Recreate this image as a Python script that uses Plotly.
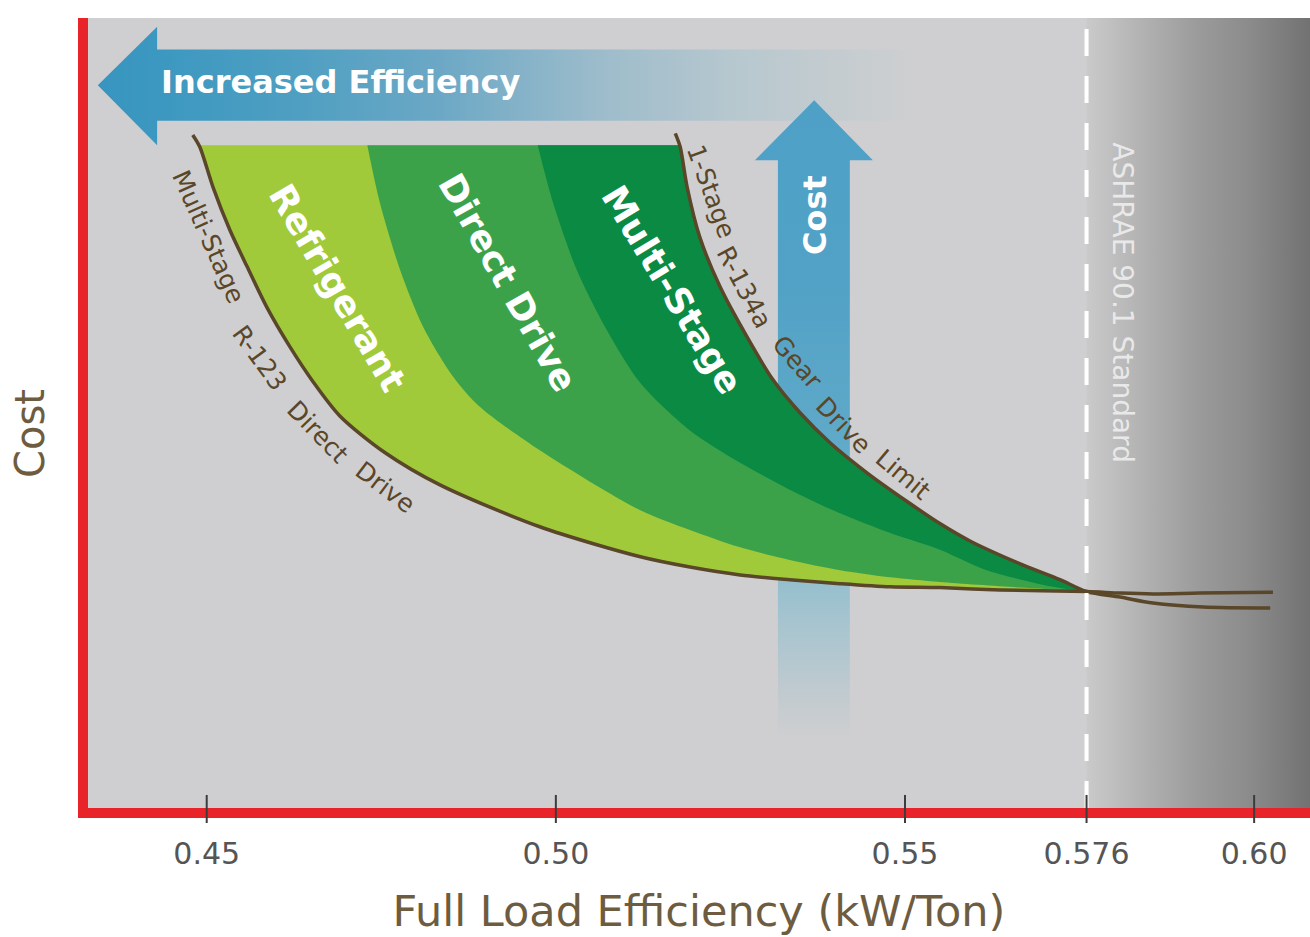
import numpy as np
import plotly.graph_objects as go

# ---- axis ticks (full-load efficiency, kW/Ton) ----
tick_vals = [0.45, 0.50, 0.55, 0.576, 0.60]
tick_text = ["0.45", "0.50", "0.55", "0.576", "0.60"]
ashrae_limit = 0.576

# ---- boundary curves: efficiency (kW/Ton) vs relative cost ----
# Multi-Stage R-123 Direct Drive (outer, most efficient)
r123_x = [0.4480, 0.4490, 0.4509, 0.4533, 0.4558, 0.4586, 0.4619, 0.4652, 0.4691,
          0.4755, 0.4834, 0.4977, 0.5121, 0.5192, 0.5264, 0.5335, 0.5407, 0.5479,
          0.5550, 0.5636, 0.576]
r123_y = [85.2, 83.7, 78.6, 73.2, 68.5, 63.4, 58.4, 54.0, 49.6,
          45.0, 40.9, 35.6, 31.8, 30.5, 29.5, 28.9, 28.4, 28.0,
          27.9, 27.6, 27.4]
r123_ext_x = [0.5808, 0.5855, 0.5922, 0.6027]
r123_ext_y = [27.2, 27.1, 27.2, 27.3]

# Refrigerant / Direct Drive boundary
refr_drive_x = [0.4730, 0.4748, 0.4777, 0.4810, 0.4853, 0.4891, 0.4977, 0.5121,
                0.5192, 0.5264, 0.5335, 0.5407, 0.5479, 0.5550, 0.5665, 0.576]
refr_drive_y = [83.9, 76.6, 68.1, 60.9, 54.6, 50.8, 45.3, 37.7,
                35.2, 33.0, 31.4, 30.1, 29.2, 28.6, 27.9, 27.4]

# Direct Drive / Multi-Stage boundary
drive_multi_x = [0.4974, 0.4996, 0.5030, 0.5073, 0.5121, 0.5192, 0.5264, 0.5335,
                 0.5407, 0.5479, 0.5550, 0.5617, 0.5712, 0.576]
drive_multi_y = [83.9, 76.6, 68.1, 60.5, 53.8, 47.8, 43.7, 40.3,
                 37.3, 34.8, 32.7, 30.1, 28.0, 27.4]

# 1-Stage R-134a Gear Drive Limit
gear_x = [0.5171, 0.5178, 0.5188, 0.5206, 0.5235, 0.5274, 0.5311, 0.5350,
          0.5393, 0.5446, 0.5503, 0.5550, 0.5593, 0.5665, 0.5722, 0.576]
gear_y = [85.4, 83.7, 78.6, 72.3, 66.0, 59.6, 54.2, 50.0,
          46.2, 42.4, 38.8, 36.0, 33.8, 30.9, 28.9, 27.4]
gear_ext_x = [0.5808, 0.5855, 0.5927, 0.6023]
gear_ext_y = [26.7, 25.95, 25.44, 25.32]

band_top = 83.9

# ---- layout constants ----
X_RANGE = [0.433, 0.608]
Y_RANGE = [0, 100]
FONT = "DejaVu Sans"
BROWN = "#5a4628"
TITLE_BROWN = "#6e5c40"
BG = "rgb(207,207,209)"


def trim_to_top(xs, ys, top):
    """Cut a descending curve so it starts exactly at the band's flat top."""
    xs = np.asarray(xs, dtype=float)
    ys = np.asarray(ys, dtype=float)
    keep = ys < top
    x_top = np.interp(top, ys[::-1], xs[::-1])
    return np.r_[x_top, xs[keep]], np.r_[top, ys[keep]]


fig = go.Figure()

# darkening zone beyond the ASHRAE 90.1 limit
fig.add_trace(go.Scatter(
    x=[ashrae_limit, X_RANGE[1] + 0.01, X_RANGE[1] + 0.01, ashrae_limit, ashrae_limit],
    y=[-2, -2, 102, 102, -2], mode="lines", line=dict(width=0), fill="toself",
    fillgradient=dict(type="horizontal", start=ashrae_limit, stop=X_RANGE[1],
                      colorscale=[[0, "rgb(202,202,203)"], [0.27, "rgb(176,176,176)"],
                                  [0.5, "rgb(155,155,155)"], [0.73, "rgb(139,139,139)"],
                                  [1, "rgb(114,114,114)"]]),
    hoverinfo="skip"))

# "Increased Efficiency" arrow
eff_arrow_x = [0.4344, 0.4429, 0.4429, 0.5526, 0.5526, 0.4429, 0.4429, 0.4344]
eff_arrow_y = [91.5, 98.9, 96.0, 96.0, 87.0, 87.0, 83.9, 91.5]
fig.add_trace(go.Scatter(
    x=eff_arrow_x, y=eff_arrow_y, mode="lines", line=dict(width=0), fill="toself",
    fillgradient=dict(type="horizontal", start=0.4344, stop=0.5526,
                      colorscale=[[0, "rgb(56,149,191)"], [0.075, "rgb(60,152,192)"],
                                  [0.245, "rgb(79,159,194)"], [0.415, "rgb(108,168,197)"],
                                  [0.61, "rgb(157,188,203)"], [0.78, "rgb(184,200,207)"],
                                  [0.96, "rgb(203,206,208)"], [1, BG]]),
    hoverinfo="skip"))

# "Cost" arrow
cost_arrow_x = [0.5370, 0.5454, 0.5421, 0.5421, 0.5318, 0.5318, 0.5285, 0.5370]
cost_arrow_y = [89.6, 82.0, 82.0, 8.6, 8.6, 82.0, 82.0, 89.6]
fig.add_trace(go.Scatter(
    x=cost_arrow_x, y=cost_arrow_y, mode="lines", line=dict(width=0), fill="toself",
    fillgradient=dict(type="vertical", start=8.6, stop=89.6,
                      colorscale=[[0, BG], [0.063, "rgb(195,203,207)"],
                                  [0.19, "rgb(165,196,207)"], [0.3, "rgb(135,186,205)"],
                                  [0.47, "rgb(95,169,201)"], [0.7, "rgb(82,162,198)"],
                                  [1, "rgb(78,160,198)"]]),
    hoverinfo="skip"))

# technology bands: each one spans from its left boundary to the gear-drive limit,
# stacked from the widest region inwards
gx, gy = trim_to_top(gear_x, gear_y, band_top)
bands = [
    (r123_x, r123_y, "rgb(160,202,58)"),             # Refrigerant
    (refr_drive_x, refr_drive_y, "rgb(59,162,74)"),  # Direct Drive
    (drive_multi_x, drive_multi_y, "rgb(11,138,68)"),  # Multi-Stage
]
for bx, by, col in bands:
    lx, ly = trim_to_top(bx, by, band_top)
    fig.add_trace(go.Scatter(x=gx, y=gy, mode="lines",
                             line=dict(width=0, shape="spline", smoothing=0.8),
                             hoverinfo="skip"))
    fig.add_trace(go.Scatter(x=lx, y=ly, mode="lines",
                             line=dict(width=0, shape="spline", smoothing=0.8),
                             fill="tonexty", fillcolor=col, hoverinfo="skip"))

# boundary limit lines
fig.add_trace(go.Scatter(x=r123_x + r123_ext_x, y=r123_y + r123_ext_y, mode="lines",
                         line=dict(color=BROWN, width=3.5, shape="spline", smoothing=0.8),
                         hoverinfo="skip"))
fig.add_trace(go.Scatter(x=gear_x + gear_ext_x, y=gear_y + gear_ext_y, mode="lines",
                         line=dict(color=BROWN, width=3.5, shape="spline", smoothing=0.8),
                         hoverinfo="skip"))

# ASHRAE dashed limit and tick marks straddling the axis line
shapes = [dict(type="line", xref="x", yref="paper", x0=ashrae_limit, x1=ashrae_limit,
               y0=0, y1=1, layer="above",
               line=dict(color="white", width=4, dash="27px,20px"))]
for v in tick_vals:
    shapes.append(dict(type="line", xref="x", yref="paper", x0=v, x1=v,
                       y0=-0.019, y1=0.0165, layer="above",
                       line=dict(color="#3c3c3c", width=2)))

annotations = []


def label(text, x, y, angle=0, size=25, color=BROWN, bold=False, xanchor="center"):
    annotations.append(dict(
        text=text, x=x, y=y, xref="x", yref="y", showarrow=False, textangle=angle,
        xanchor=xanchor, yanchor="middle",
        font=dict(family=FONT, size=size, color=color, weight=700 if bold else 400)))


# band names
label("Refrigerant", 0.4688, 65.8, 59.6, 36, "white", True)
label("Direct Drive", 0.4931, 66.5, 60.6, 36, "white", True)
label("Multi-Stage", 0.5166, 65.6, 58.7, 36, "white", True)

# curve captions following the limit lines
for word, x, y, a in [("Multi-Stage", 0.4502, 72.3, 66), ("R-123", 0.4575, 57.0, 54),
                      ("Direct", 0.4658, 47.6, 46), ("Drive", 0.4756, 40.6, 37)]:
    label(word, x, y, a)
for word, x, y, a in [("1-Stage", 0.5222, 78.0, 70), ("R-134a", 0.5270, 65.9, 62),
                      ("Gear", 0.5346, 56.4, 49), ("Drive", 0.5412, 48.4, 46),
                      ("Limit", 0.5497, 42.2, 40)]:
    label(word, x, y, a)

# arrow captions
label("Increased Efficiency", 0.4431, 91.9, 0, 32, "white", True, xanchor="left")
label("Cost", 0.5370, 75.1, -90, 32, "white", True)
label("ASHRAE 90.1 Standard", 0.5811, 64.0, 90, 28, "rgba(236,236,236,0.95)")

# y-axis title
annotations.append(dict(text="Cost", xref="paper", yref="paper", x=-0.0475, y=0.4747,
                        xanchor="center", yanchor="middle",
                        showarrow=False, textangle=-90,
                        font=dict(family=FONT, size=40, color=TITLE_BROWN)))

fig.update_layout(
    width=1310, height=937,
    margin=dict(l=88, r=0, t=18, b=129),
    paper_bgcolor="white", plot_bgcolor=BG,
    showlegend=False, shapes=shapes, annotations=annotations,
)
fig.update_xaxes(
    range=X_RANGE, tickvals=tick_vals, ticktext=tick_text,
    showgrid=False, zeroline=False, showline=True, linecolor="#e8232a", linewidth=10,
    ticks="outside", ticklen=10, tickcolor="rgba(0,0,0,0)",
    tickfont=dict(family=FONT, size=30, color="#555555"),
    title=dict(text="Full Load Efficiency (kW/Ton)", standoff=30,
               font=dict(family=FONT, size=43, color=TITLE_BROWN)),
)
fig.update_yaxes(
    range=Y_RANGE, showticklabels=False, showgrid=False, zeroline=False,
    showline=True, linecolor="#e8232a", linewidth=10, ticks="",
)

fig.write_html("out.html")
